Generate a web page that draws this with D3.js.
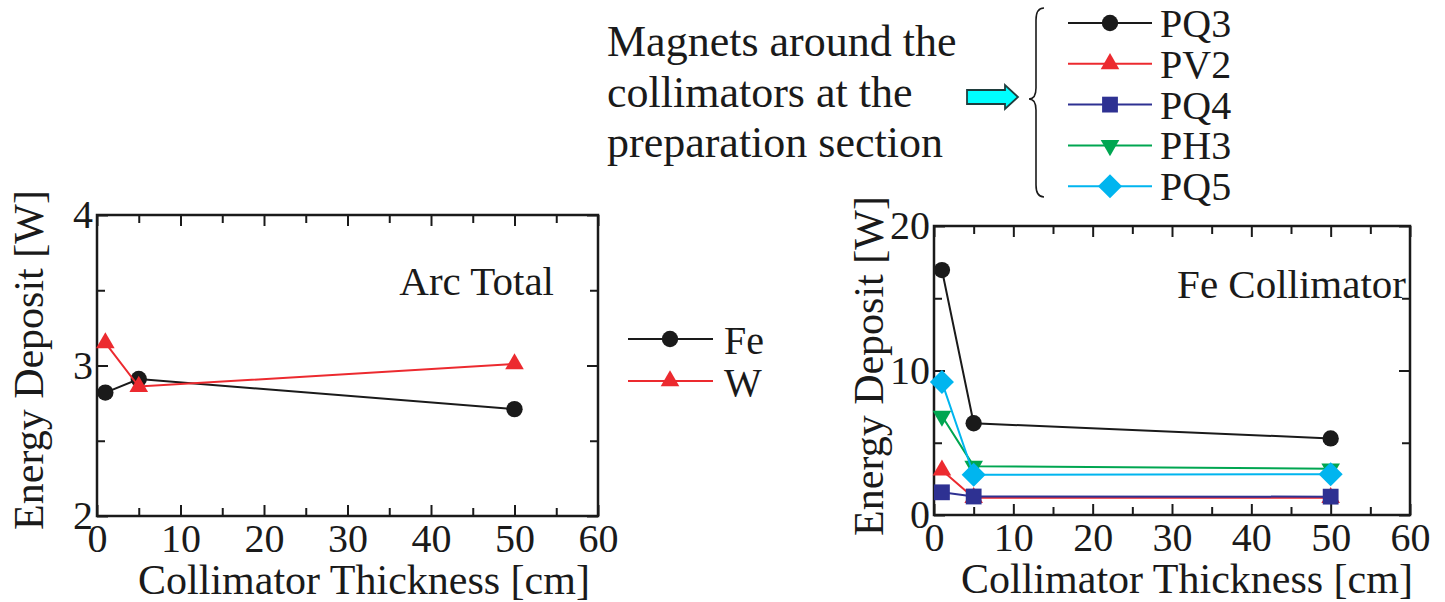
<!DOCTYPE html>
<html>
  <head>
    <meta charset="utf-8">
    <title>Energy deposit vs collimator thickness</title>
    <script src="https://d3js.org/d3.v7.min.js"></script>
    <style>
      body { margin: 0; background: #fff; }
      text { font-family: "Liberation Serif", "Times New Roman", serif; fill: #1a1a1a; }
    </style>
  </head>
  <body>
  <script type="text/javascript">
    // data
    var thickness = [1, 5, 50];
    var arcFe = [2.82, 2.91, 2.71];
    var arcW  = [3.15, 2.86, 3.01];
    var fePQ3 = [16.95, 6.35, 5.3];
    var fePV2 = [3.1, 1.2, 1.2];
    var fePQ4 = [1.57, 1.28, 1.27];
    var fePH3 = [6.85, 3.38, 3.2];
    var fePQ5 = [9.2, 2.78, 2.82];

    var xMajor = [0, 10, 20, 30, 40, 50, 60];
    var xMinor = [5, 15, 25, 35, 45, 55];
    var arcYMajor = [2, 3, 4];
    var arcYMinor = [2.5, 3.5];
    var feYMajor = [0, 10, 20];
    var feYMinor = [5, 15];
    var annotation = ['Magnets around the', 'collimators at the', 'preparation section'];

    var cBlack = '#1a1a1a', cRed = '#ec2a2f', cBlue = '#2e3192',
        cGreen = '#00a651', cCyan = '#00b5ef';
    var serif = '"Liberation Serif", "Times New Roman", serif';

    var svg = d3.select('body')
                .append('svg')
                .attr('width', 1445)
                .attr('height', 602)
                .style('font-family', serif);

    function marker(kind) {
      if (kind == 'circle') return d3.symbol(d3.symbolCircle, 210)();
      if (kind == 'tri') return d3.symbol(d3.symbolTriangle, 150)();
      if (kind == 'square') return d3.symbol(d3.symbolSquare, 250)();
      if (kind == 'diamond') return d3.symbol(d3.symbolSquare, 290)();
      if (kind == 'down') return d3.symbol(d3.symbolTriangle, 150)();
    }
    function markerRot(kind) {
      if (kind == 'diamond') return ' rotate(45)';
      if (kind == 'down') return ' rotate(180)';
      return '';
    }

    function panel(box, yDomain, yMajor, yMinor, series) {
      var x = d3.scaleLinear().domain([0, 60]).range([box.l, box.r]);
      var y = d3.scaleLinear().domain(yDomain).range([box.b, box.t]);
      var g = svg.append('g');

      function ax(axis, tx, ty) {
        var a = g.append('g').attr('transform', 'translate(' + tx + ',' + ty + ')').call(axis);
        a.attr('font-family', null).attr('font-size', null);
        a.select('.domain').remove();
        a.selectAll('line').attr('stroke', cBlack).attr('stroke-width', 2);
        a.selectAll('text').attr('font-size', 40).attr('fill', cBlack)
          .style('font-family', serif);
        return a;
      }
      // inward ticks on all four sides
      ax(d3.axisBottom(x).tickValues(xMajor).tickSize(-11).tickPadding(8).tickFormat(d3.format('d')), 0, box.b);
      ax(d3.axisBottom(x).tickValues(xMinor).tickSize(-8).tickFormat(''), 0, box.b);
      ax(d3.axisTop(x).tickValues(xMajor).tickSize(-11).tickFormat(''), 0, box.t);
      ax(d3.axisTop(x).tickValues(xMinor).tickSize(-8).tickFormat(''), 0, box.t);
      ax(d3.axisLeft(y).tickValues(yMajor).tickSize(-11).tickPadding(4).tickFormat(d3.format('d')), box.l, 0);
      ax(d3.axisLeft(y).tickValues(yMinor).tickSize(-8).tickFormat(''), box.l, 0);
      ax(d3.axisRight(y).tickValues(yMajor).tickSize(-11).tickFormat(''), box.r, 0);
      ax(d3.axisRight(y).tickValues(yMinor).tickSize(-8).tickFormat(''), box.r, 0);

      g.append('rect')
       .attr('x', box.l).attr('y', box.t)
       .attr('width', box.r - box.l).attr('height', box.b - box.t)
       .attr('fill', 'none').attr('stroke', cBlack).attr('stroke-width', 2.5);

      var line = d3.line().x(function(d){ return x(d[0]); }).y(function(d){ return y(d[1]); });
      series.forEach(function(s) {
        var pts = d3.zip(thickness, s.values);
        g.append('path').attr('d', line(pts))
         .attr('fill', 'none').attr('stroke', s.color).attr('stroke-width', 2);
        g.selectAll(null).data(pts).enter().append('path')
         .attr('d', marker(s.shape))
         .attr('transform', function(d){ return 'translate(' + x(d[0]) + ',' + y(d[1]) + ')' + markerRot(s.shape); })
         .attr('fill', s.color);
      });
      return g;
    }

    // left panel: Arc Total
    var leftBox = {l: 97, r: 598, t: 215, b: 516};
    panel(leftBox, [2, 4], arcYMajor, arcYMinor, [
      {values: arcFe, color: cBlack, shape: 'circle'},
      {values: arcW, color: cRed, shape: 'tri'}
    ]);
    svg.append('text').attr('x', 554).attr('y', 295).attr('text-anchor', 'end')
       .attr('font-size', 41).text('Arc Total');
    svg.append('text').attr('transform', 'translate(43,360) rotate(-90)')
       .attr('text-anchor', 'middle').attr('font-size', 42).text('Energy Deposit [W]');
    svg.append('text').attr('x', 364).attr('y', 594).attr('text-anchor', 'middle')
       .attr('font-size', 42).text('Collimator Thickness [cm]');

    // left legend
    var leftLegend = [
      {name: 'Fe', color: cBlack, shape: 'circle'},
      {name: 'W', color: cRed, shape: 'tri'}
    ];
    leftLegend.forEach(function(d, i) {
      var ly = 339 + i * 42;
      svg.append('line').attr('x1', 628).attr('x2', 713).attr('y1', ly).attr('y2', ly)
         .attr('stroke', d.color).attr('stroke-width', 2);
      svg.append('path').attr('d', marker(d.shape))
         .attr('transform', 'translate(670,' + ly + ')' + markerRot(d.shape)).attr('fill', d.color);
      svg.append('text').attr('x', 724).attr('y', ly + 15).attr('font-size', 40).text(d.name);
    });

    // right panel: Fe Collimator
    var rightSeries = [
      {name: 'PQ3', values: fePQ3, color: cBlack, shape: 'circle'},
      {name: 'PV2', values: fePV2, color: cRed, shape: 'tri'},
      {name: 'PQ4', values: fePQ4, color: cBlue, shape: 'square'},
      {name: 'PH3', values: fePH3, color: cGreen, shape: 'down'},
      {name: 'PQ5', values: fePQ5, color: cCyan, shape: 'diamond'}
    ];
    var rightBox = {l: 934, r: 1410, t: 226, b: 515};
    panel(rightBox, [0, 20], feYMajor, feYMinor, rightSeries);
    svg.append('text').attr('x', 1406).attr('y', 298).attr('text-anchor', 'end')
       .attr('font-size', 41).text('Fe Collimator');
    svg.append('text').attr('transform', 'translate(883,366) rotate(-90)')
       .attr('text-anchor', 'middle').attr('font-size', 42).text('Energy Deposit [W]');
    svg.append('text').attr('x', 1187).attr('y', 593).attr('text-anchor', 'middle')
       .attr('font-size', 42).text('Collimator Thickness [cm]');

    // top legend with annotation, arrow and brace
    annotation.forEach(function(t, i) {
      svg.append('text').attr('x', 607).attr('y', 56 + i * 50.5)
         .attr('font-size', 44).text(t);
    });
    svg.append('path')
       .attr('d', 'M967,90 L1005,90 L1005,85 L1018,97 L1005,109 L1005,104 L967,104 Z')
       .attr('fill', '#00ffff').attr('stroke', '#1f3d3d').attr('stroke-width', 1.8);
    svg.append('path')
       .attr('d', 'M1044,8 Q1036,8 1036,20 L1036,88 Q1036,99 1029,99 Q1036,99 1036,110 L1036,185 Q1036,197 1044,197')
       .attr('fill', 'none').attr('stroke', cBlack).attr('stroke-width', 1.6);
    rightSeries.forEach(function(d, i) {
      var ly = 23 + i * 40.8;
      svg.append('line').attr('x1', 1068).attr('x2', 1152).attr('y1', ly).attr('y2', ly)
         .attr('stroke', d.color).attr('stroke-width', 2);
      svg.append('path').attr('d', marker(d.shape))
         .attr('transform', 'translate(1110,' + ly + ')' + markerRot(d.shape)).attr('fill', d.color);
      svg.append('text').attr('x', 1160).attr('y', ly + 14).attr('font-size', 40).text(d.name);
    });
  </script>
  </body>
</html>
